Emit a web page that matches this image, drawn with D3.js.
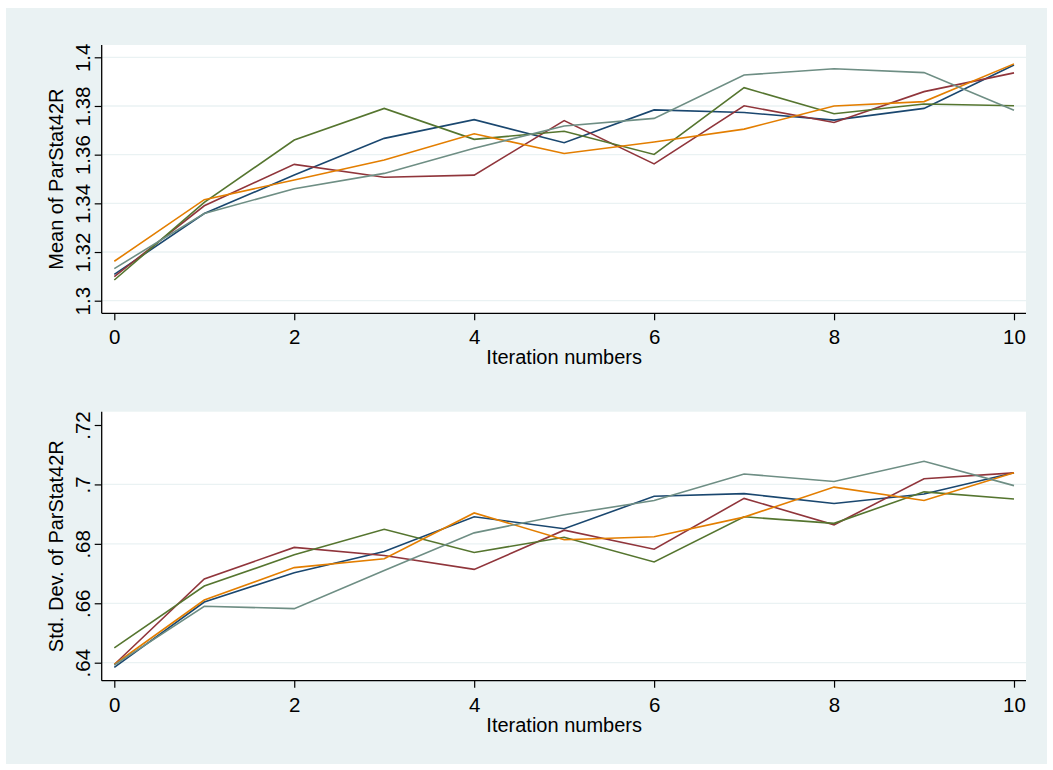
<!DOCTYPE html>
<html>
<head>
<meta charset="utf-8">
<script src="https://cdn.jsdelivr.net/npm/d3@7"></script>
<style>
  body { margin: 0; background: #ffffff; }
  text { font-family: "Liberation Sans", Arial, Helvetica, sans-serif; fill: #000; }
  .tick line { stroke: #000; }
  .domain { stroke: #000; }
</style>
</head>
<body>
<div class="svg-container"></div>
<script>
var width = 1053;
var height = 770;

// iteration numbers on the x axis
var iterations = [0, 1, 2, 3, 4, 5, 6, 7, 8, 9, 10];
var xTicks = [0, 2, 4, 6, 8, 10];

// series names (Stata default s2color order)
var seriesNames = ["s1", "s2", "s3", "s4", "s5"];
var colors = ["#1a476f", "#90353b", "#55752f", "#e37e00", "#6e8e84"];

// mean of ParStat42R, one array per line
var mean1 = [1.3108, 1.3358, 1.3516, 1.3667, 1.3744, 1.3649, 1.3784, 1.3773, 1.3742, 1.3790, 1.3968];
var mean2 = [1.3099, 1.3390, 1.3560, 1.3507, 1.3516, 1.3740, 1.3562, 1.3801, 1.3732, 1.3859, 1.3936];
var mean3 = [1.3085, 1.3404, 1.3660, 1.3790, 1.3663, 1.3696, 1.3601, 1.3875, 1.3768, 1.3808, 1.3801];
var mean4 = [1.3162, 1.3415, 1.3496, 1.3578, 1.3686, 1.3605, 1.3652, 1.3705, 1.3800, 1.3818, 1.3973];
var mean5 = [1.3132, 1.3358, 1.3460, 1.3523, 1.3626, 1.3718, 1.3749, 1.3927, 1.3953, 1.3937, 1.3782];

// std. dev. of ParStat42R
var sd1 = [0.6384, 0.6604, 0.6703, 0.6774, 0.6891, 0.6851, 0.6960, 0.6969, 0.6936, 0.6968, 0.7039];
var sd2 = [0.6394, 0.6682, 0.6788, 0.6761, 0.6714, 0.6846, 0.6782, 0.6953, 0.6864, 0.7019, 0.7039];
var sd3 = [0.6450, 0.6658, 0.6763, 0.6849, 0.6771, 0.6822, 0.6739, 0.6891, 0.6869, 0.6975, 0.6951];
var sd4 = [0.6394, 0.6611, 0.6720, 0.6750, 0.6904, 0.6814, 0.6824, 0.6890, 0.6991, 0.6946, 0.7039];
var sd5 = [0.6392, 0.6590, 0.6582, 0.6710, 0.6837, 0.6898, 0.6946, 0.7035, 0.7010, 0.7078, 0.6996];

// y tick values and their labels
var meanTicks = [1.3, 1.32, 1.34, 1.36, 1.38, 1.4];
var meanTickLabels = ["1.3", "1.32", "1.34", "1.36", "1.38", "1.4"];
var meanGrid = [1.3, 1.32, 1.34, 1.36, 1.38, 1.4];
var sdTicks = [0.64, 0.66, 0.68, 0.70, 0.72];
var sdTickLabels = [".64", ".66", ".68", ".7", ".72"];
var sdGrid = [0.64, 0.66, 0.68, 0.70];

var svg = d3.select(".svg-container")
              .append("svg")
              .attr("width", width)
              .attr("height", height);

// graph background
svg.append("rect")
    .attr("x", 6)
    .attr("y", 8)
    .attr("width", 1041)
    .attr("height", 756)
    .attr("fill", "#eaf2f3");

var scaleX = d3.scaleLinear()
                .domain([0, 10])
                .range([114.3, 1014]);

drawPanel({
    top: 45, bottom: 313.3,
    domain: [1.3, 1.4], range: [300.7, 57.3],
    series: [mean1, mean2, mean3, mean4, mean5],
    ticks: meanTicks, tickLabels: meanTickLabels, grid: meanGrid,
    yTitle: "Mean of ParStat42R"
});

drawPanel({
    top: 411.7, bottom: 680.7,
    domain: [0.64, 0.72], range: [662.7, 425],
    series: [sd1, sd2, sd3, sd4, sd5],
    ticks: sdTicks, tickLabels: sdTickLabels, grid: sdGrid,
    yTitle: "Std. Dev. of ParStat42R"
});

function drawPanel(p) {
    var left = 101.7, right = 1026;

    var scaleY = d3.scaleLinear()
                    .domain(p.domain)
                    .range(p.range);

    // plot region
    svg.append("rect")
        .attr("x", left)
        .attr("y", p.top)
        .attr("width", right - left)
        .attr("height", p.bottom - p.top)
        .attr("fill", "#ffffff");

    // grid lines
    svg.append("g")
        .selectAll("line")
        .data(p.grid)
        .enter()
        .append("line")
        .attr("x1", left)
        .attr("x2", right)
        .attr("y1", function(d) { return scaleY(d); })
        .attr("y2", function(d) { return scaleY(d); })
        .attr("stroke", "#eaf2f3")
        .attr("stroke-width", 1.3);

    // lines
    var line = d3.line()
                 .x(function(d, i) { return scaleX(iterations[i]); })
                 .y(function(d) { return scaleY(d); });

    svg.append("g")
        .selectAll("path")
        .data(p.series)
        .enter()
        .append("path")
        .attr("fill", "none")
        .attr("stroke", function(d, i) { return colors[i]; })
        .attr("stroke-width", 1.6)
        .attr("stroke-linejoin", "miter")
        .attr("d", line);

    // x axis
    var xAxis = svg.append("g")
        .attr("transform", "translate(0," + p.bottom + ")")
        .call(d3.axisBottom(scaleX)
                .tickValues(xTicks)
                .tickSize(7)
                .tickPadding(9.5)
                .tickSizeOuter(0));
    xAxis.select(".domain").attr("d", "M" + left + ",0H" + right).attr("stroke-width", 1.3);
    xAxis.selectAll(".tick line").attr("stroke-width", 1.2);
    xAxis.selectAll("text").attr("font-size", 20.5);

    // y axis
    var yAxis = svg.append("g")
        .attr("transform", "translate(" + left + ",0)")
        .call(d3.axisLeft(scaleY)
                .tickValues(p.ticks)
                .tickFormat(function(d, i) { return p.tickLabels[i]; })
                .tickSize(7)
                .tickSizeOuter(0));
    yAxis.select(".domain").attr("d", "M0," + p.top + "V" + p.bottom).attr("stroke-width", 1.3);
    yAxis.selectAll(".tick line").attr("stroke-width", 1.2);
    yAxis.selectAll("text")
        .attr("font-size", 20.5)
        .attr("text-anchor", "middle")
        .attr("transform", "rotate(-90)")
        .attr("x", 0)
        .attr("y", -11.5)
        .attr("dy", 0);

    // axis titles
    svg.append("text")
        .attr("x", (scaleX(0) + scaleX(10)) / 2)
        .attr("y", p.bottom + 51)
        .attr("text-anchor", "middle")
        .attr("font-size", 20)
        .text("Iteration numbers");

    svg.append("text")
        .attr("transform", "rotate(-90)")
        .attr("x", -(p.top + p.bottom) / 2)
        .attr("y", 63.3)
        .attr("text-anchor", "middle")
        .attr("font-size", 20)
        .text(p.yTitle);
}
</script>
</body>
</html>
